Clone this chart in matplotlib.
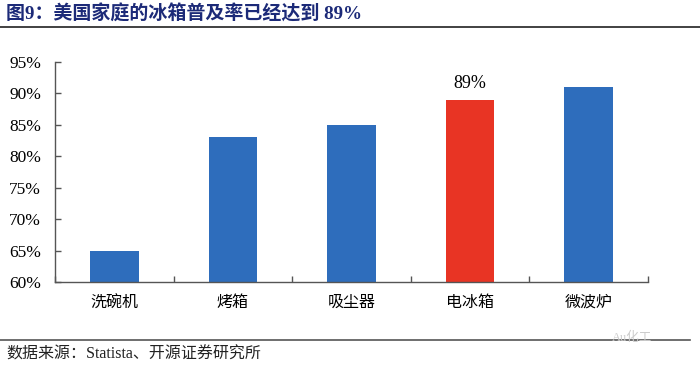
import matplotlib
matplotlib.use("Agg")
import matplotlib.pyplot as plt
from matplotlib.lines import Line2D
import numpy as np

categories = ["洗碗机", "烤箱", "吸尘器", "电冰箱", "微波炉"]
values = [65, 83, 85, 89, 91]
highlight = "电冰箱"
y_ticks = [60, 65, 70, 75, 80, 85, 90, 95]

FAM = ["Liberation Serif", "Noto Sans CJK SC", "DejaVu Sans"]
plt.rcParams["font.family"] = FAM

blue = "#2E6DBC"
red = "#E83424"

fig = plt.figure(figsize=(7.0, 3.71), dpi=100)
ax = fig.add_axes([55/700, 1-282/371, (648-55)/700, (282-62)/371])

x = np.arange(len(categories))
colors = [red if c == highlight else blue for c in categories]
ax.bar(x, [v - 60 for v in values], bottom=60, width=0.41, color=colors)

ax.set_xlim(-0.5, len(categories) - 0.5)
ax.set_ylim(60, 95)
ax.set_yticks(y_ticks)
ax.set_yticklabels([f"{t}%" for t in y_ticks], fontsize=12.5)
ax.tick_params(axis="y", direction="in", length=4, width=1, color="#555555", pad=10)

ax.set_xticks(x)
ax.set_xticklabels(categories, fontsize=11.5)
ax.tick_params(axis="x", length=0, pad=9)
ax.set_xticks(np.arange(len(categories) + 1) - 0.5, minor=True)
ax.tick_params(axis="x", which="minor", direction="in", length=4, width=1, color="#555555")

for s in ["top", "right"]:
    ax.spines[s].set_visible(False)
for s in ["left", "bottom"]:
    ax.spines[s].set_color("#555555")
    ax.spines[s].set_linewidth(1)

i = categories.index(highlight)
ax.text(x[i], values[i] + 1.2, f"{values[i]}%", ha="center", va="bottom", fontsize=13)

fig.text(6/700, 1-14/371, "图9：美国家庭的冰箱普及率已经达到 89%", fontsize=13.7,
         fontweight="bold", color="#1C2A78", va="center", ha="left")
fig.add_artist(Line2D([0, 1], [1-27/371, 1-27/371], color="#333333", lw=1.3))
fig.add_artist(Line2D([0, 690/700], [1-340/371, 1-340/371], color="#555555", lw=1.2))
fig.text(6/700, 1-355/371, "数据来源：Statista、开源证券研究所", fontsize=11.5,
         color="#222222", va="center", ha="left")
fig.text(612/700, 1-338/371, "Au化工", fontsize=9, color="#cccccc", va="center", ha="left")

fig.savefig("out.png", dpi=100)
